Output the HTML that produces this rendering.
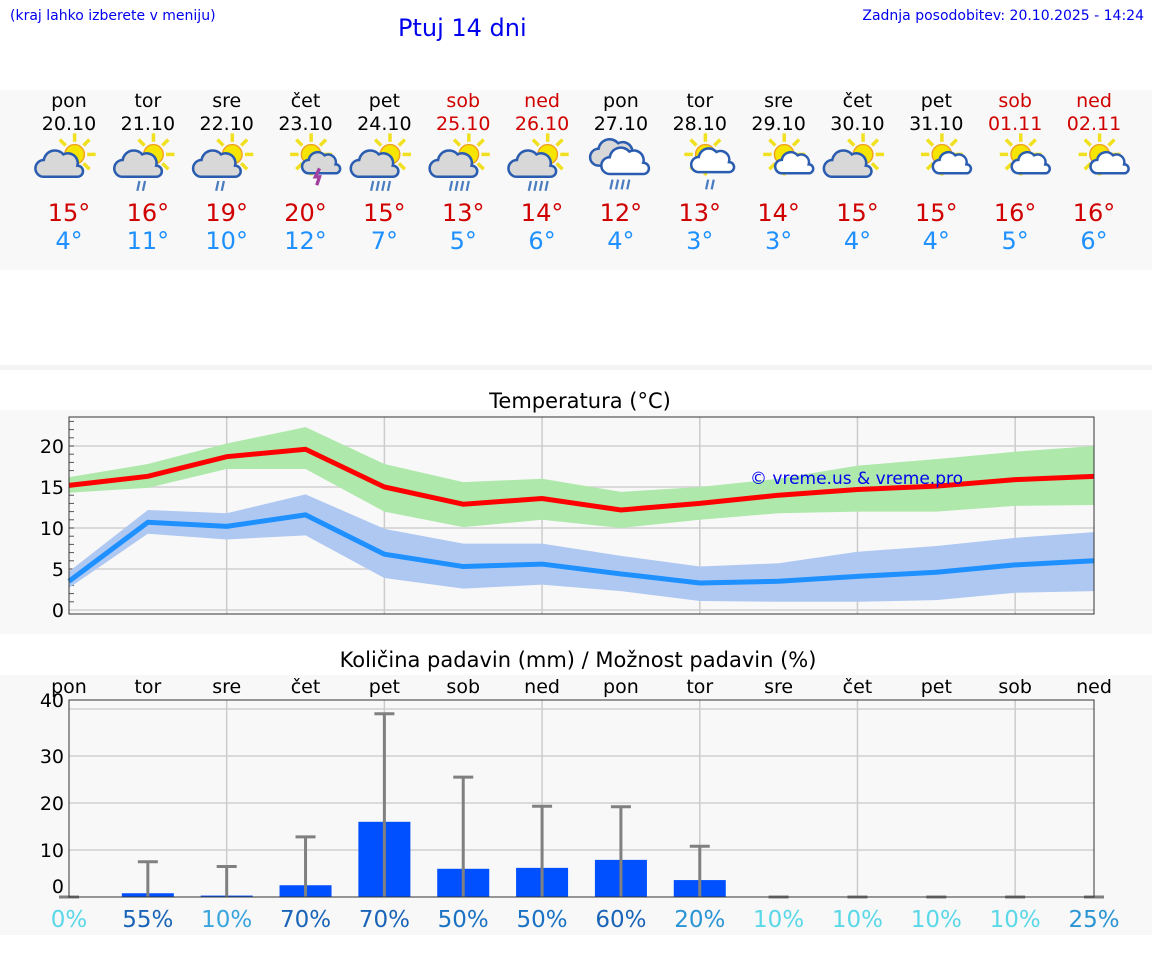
<!DOCTYPE html>
<html><head><meta charset="utf-8"><style>
body{margin:0;width:1152px;height:975px;background:#fff;font-family:"DejaVu Sans","Liberation Sans",sans-serif;position:relative;overflow:hidden}
.a{position:absolute}
</style></head><body>
<div class="a" style="left:10px;top:8px;font-size:14px;color:#0000ee">(kraj lahko izberete v meniju)</div>
<div class="a" style="left:398px;top:14px;font-size:24px;color:#0000ee">Ptuj 14 dni</div>
<div class="a" style="right:8px;top:8px;font-size:14px;color:#0000ee">Zadnja posodobitev: 20.10.2025 - 14:24</div>
<div class="a" style="left:0;top:90px;width:1152px;height:180px;background:#f8f8f8"></div>
<div class="a" style="left:0;top:365px;width:1152px;height:5px;background:#f4f4f4"></div>
<svg class="a" style="left:0;top:0" width="1152" height="975" id="svg"></svg>
<script>
const days=["pon","tor","sre","čet","pet","sob","ned","pon","tor","sre","čet","pet","sob","ned"];
const dates=["20.10","21.10","22.10","23.10","24.10","25.10","26.10","27.10","28.10","29.10","30.10","31.10","01.11","02.11"];
const weekend=[0,0,0,0,0,1,1,0,0,0,0,0,1,1];
const icons=["sc","scr","scr","st","scr3","scr3","scr3","cr","sr","s","sc","s","s","s"];
const tmaxLabel=[15,16,19,20,15,13,14,12,13,14,15,15,16,16];
const tminLabel=[4,11,10,12,7,5,6,4,3,3,4,4,5,6];
const tmax=[15.2,16.3,18.7,19.6,15,12.9,13.6,12.2,13,14,14.7,15.1,15.9,16.3];
const tmaxHi=[16.2,17.8,20.3,22.3,17.8,15.6,16,14.4,15,16,17.6,18.4,19.3,20];
const tmaxLo=[14.3,14.9,17.2,17.2,12,10.1,11,10,11,11.8,12,12,12.7,12.8];
const tmin=[3.5,10.7,10.2,11.6,6.8,5.3,5.6,4.4,3.3,3.5,4.1,4.6,5.5,6];
const tminHi=[4.7,12.2,11.8,14.1,9.9,8.1,8.1,6.6,5.3,5.7,7.1,7.8,8.8,9.5];
const tminLo=[2.7,9.3,8.6,9.1,3.9,2.6,3.1,2.3,1.1,1.0,1.0,1.2,2.1,2.3];
const tempTicks=[0,5,10,15,20];
const precip=[0,0.8,0.3,2.5,16,6,6.2,7.9,3.6,0,0,0,0,0];
const precipMax=[0,7.5,6.5,12.8,39,25.5,19.3,19.2,10.8,0,0,0,0,0];
const precipTicks=[0,10,20,30,40];
const chance=[0,55,10,70,70,50,50,60,20,10,10,10,10,25];

const S=document.getElementById('svg');const NS="http://www.w3.org/2000/svg";
function el(t,a,txt){const e=document.createElementNS(NS,t);for(const k in a)e.setAttribute(k,a[k]);if(txt!==undefined)e.textContent=txt;S.appendChild(e);return e;}
const X=i=>69+i*(1025/13);
const yT=v=>610-v*8.2;
const yP=v=>897-v*4.7;
const F='"DejaVu Sans","Liberation Sans",sans-serif';
days.forEach((d,i)=>{
 const c=weekend[i]?"#d00000":"#000";
 let t=el('text',{x:X(i),y:107,'text-anchor':'middle','font-size':19,fill:c,'font-family':F},d);
 
 t=el('text',{x:X(i),y:130,'text-anchor':'middle','font-size':19,fill:c,'font-family':F},dates[i]);
 
 t=el('text',{x:X(i),y:221,'text-anchor':'middle','font-size':24,fill:"#d00000",'font-family':F},tmaxLabel[i]+"°");
 
 t=el('text',{x:X(i),y:249,'text-anchor':'middle','font-size':24,fill:"#1e90ff",'font-family':F},tminLabel[i]+"°");
 
 const ic=icons[i],cx=X(i),cy=160;
 const g=document.createElementNS(NS,'g');
 
 
 g.setAttribute('transform',`translate(${cx*(1-1.4)},${cy*(1-1.4)}) scale(1.4)`);S.appendChild(g);
 let h='';
 const sun=(sx,sy,r)=>{let s='';for(let k=0;k<8;k++){const a=k*Math.PI/4;s+=`<line x1="${sx+Math.cos(a)*(r+2)}" y1="${sy+Math.sin(a)*(r+2)}" x2="${sx+Math.cos(a)*(r+8)}" y2="${sy+Math.sin(a)*(r+8)}" stroke="#f0e020" stroke-width="2.5"/>`;}return s+`<circle cx="${sx}" cy="${sy}" r="${r}" fill="#f5e500" stroke="#f0a020" stroke-width="1"/>`;};
 const cloud=(x,y,s,fill)=>`<path d="M${x-12*s},${y+7*s} a6,6 0 0 1 0,-12 a8,8 0 0 1 14,-4 a7,7 0 0 1 10,8 a4,4 0 0 1 0,8 z" transform="translate(${x*(1-s)},${y*(1-s)}) scale(${s})" fill="${fill}" stroke="#2a5cb0" stroke-width="${1.8/s}"/>`;
 const rain=(x,y,n)=>{let s='';for(let k=0;k<n;k++)s+=`<line x1="${x+k*4}" y1="${y}" x2="${x+k*4-1.5}" y2="${y+7}" stroke="#4a7cc0" stroke-width="1.6"/>`;return s;};
 if(ic==="cr"){h+=cloud(cx-4,cy-3,1,"#d8d8d8")+cloud(cx+4,cy+3,1,"#fff")+rain(cx-6,cy+14,4);}
 else{
  h+=sun(cx+4,cy-4,7);
  if(ic==="sc"||ic.startsWith("scr"))h+=cloud(cx-6,cy+5,1,"#d8d8d8");
  if(ic==="scr")h+=rain(cx-6,cy+15,2);
  if(ic==="scr3")h+=rain(cx-8,cy+15,4);
  if(ic==="st")h+=cloud(cx+10,cy+5,0.8,"#d8d8d8")+`<path d="M${cx+10},${cy+6} l-3,6 h3 l-2,6" stroke="#a040a0" stroke-width="2.4" fill="none"/>`;
  if(ic==="s")h+=cloud(cx+10,cy+5,0.8,"#fff");
  if(ic==="sr")h+=cloud(cx+9,cy+3,0.9,"#fff")+rain(cx+6,cy+14,2);
 }
 g.innerHTML=h;
});
el('rect',{x:0,y:410,width:1152,height:224,fill:'#f8f8f8'});
let t=el('text',{x:580,y:408,'text-anchor':'middle','font-size':21,fill:'#000','font-family':F},'Temperatura (°C)');

tempTicks.forEach(v=>{el('line',{x1:69,x2:1094,y1:yT(v),y2:yT(v),stroke:'#d0d0d0','stroke-width':1.5});
 const l=el('text',{x:64,y:yT(v)+7,'text-anchor':'end','font-size':19,fill:'#000','font-family':F},v);
 });
for(let v=1;v<=23;v++)el('line',{x1:69,x2:74,y1:yT(v),y2:yT(v),stroke:'#555','stroke-width':1});
for(let i=2;i<13;i+=2)el('line',{x1:X(i),x2:X(i),y1:417,y2:614,stroke:'#ccc','stroke-width':1.5});
function band(hi,lo,fill,name){let d='M'+hi.map((v,i)=>X(i)+','+yT(v)).join(' L')+' L'+lo.map((v,i)=>X(i)+','+yT(v)).reverse().join(' L')+'Z';
 const p=el('path',{d:d,fill:fill});}
function line(a,c,name){const p=el('polyline',{points:a.map((v,i)=>X(i)+','+yT(v)).join(' '),fill:'none',stroke:c,'stroke-width':5});
 }
band(tmaxHi,tmaxLo,'#aee8aa','max-temp-band');band(tminHi,tminLo,'#aec8f2','min-temp-band');
line(tmax,'#ff0000','max-temp-line');line(tmin,'#1e90ff','min-temp-line');
el('rect',{x:69,y:417,width:1025,height:197,fill:'none',stroke:'#333','stroke-width':1});
t=el('text',{x:750,y:484,'font-size':17,fill:'#0000ee','font-family':F},'© vreme.us & vreme.pro');

el('rect',{x:0,y:675,width:1152,height:260,fill:'#f8f8f8'});
t=el('text',{x:578,y:667,'text-anchor':'middle','font-size':21,fill:'#000','font-family':F},'Količina padavin (mm) / Možnost padavin (%)');

days.forEach((d,i)=>{const l=el('text',{x:X(i),y:693,'text-anchor':'middle','font-size':19,fill:'#000','font-family':F},d);
 });
precipTicks.forEach(v=>{if(v>0)el('line',{x1:69,x2:1094,y1:yP(v),y2:yP(v),stroke:'#d0d0d0','stroke-width':1.5});
 const l=el('text',{x:64,y:v===40?707:v===0?893:yP(v)+7,'text-anchor':'end','font-size':19,fill:'#000','font-family':F},v);
 });
for(let i=2;i<13;i+=2)el('line',{x1:X(i),x2:X(i),y1:700,y2:897,stroke:'#ccc','stroke-width':1.5});
const pc=v=>v===0?'#5ad8e8':v<=10?'#3aa4dc':v<=25?'#2a94d4':v<=50?'#1a72c4':'#1a64b8';
precip.forEach((v,i)=>{
 if(v>0){const r=el('rect',{x:X(i)-26,y:yP(v),width:52,height:897-yP(v),fill:'#0050ff'});}
 const e=el('line',{x1:X(i),x2:X(i),y1:897,y2:yP(precipMax[i]),stroke:'#808080','stroke-width':3});
 el('line',{x1:X(i)-10,x2:X(i)+10,y1:yP(precipMax[i]),y2:yP(precipMax[i]),stroke:'#808080','stroke-width':3});
 const l=el('text',{x:X(i),y:927,'text-anchor':'middle','font-size':23,fill:(chance[i]<=10&&i>8||chance[i]===0)?'#5ad8e8':pc(chance[i]),'font-family':F},chance[i]+'%');
 
});
el('rect',{x:69,y:700,width:1025,height:197,fill:'none',stroke:'#333','stroke-width':1});
</script>
</body></html>
